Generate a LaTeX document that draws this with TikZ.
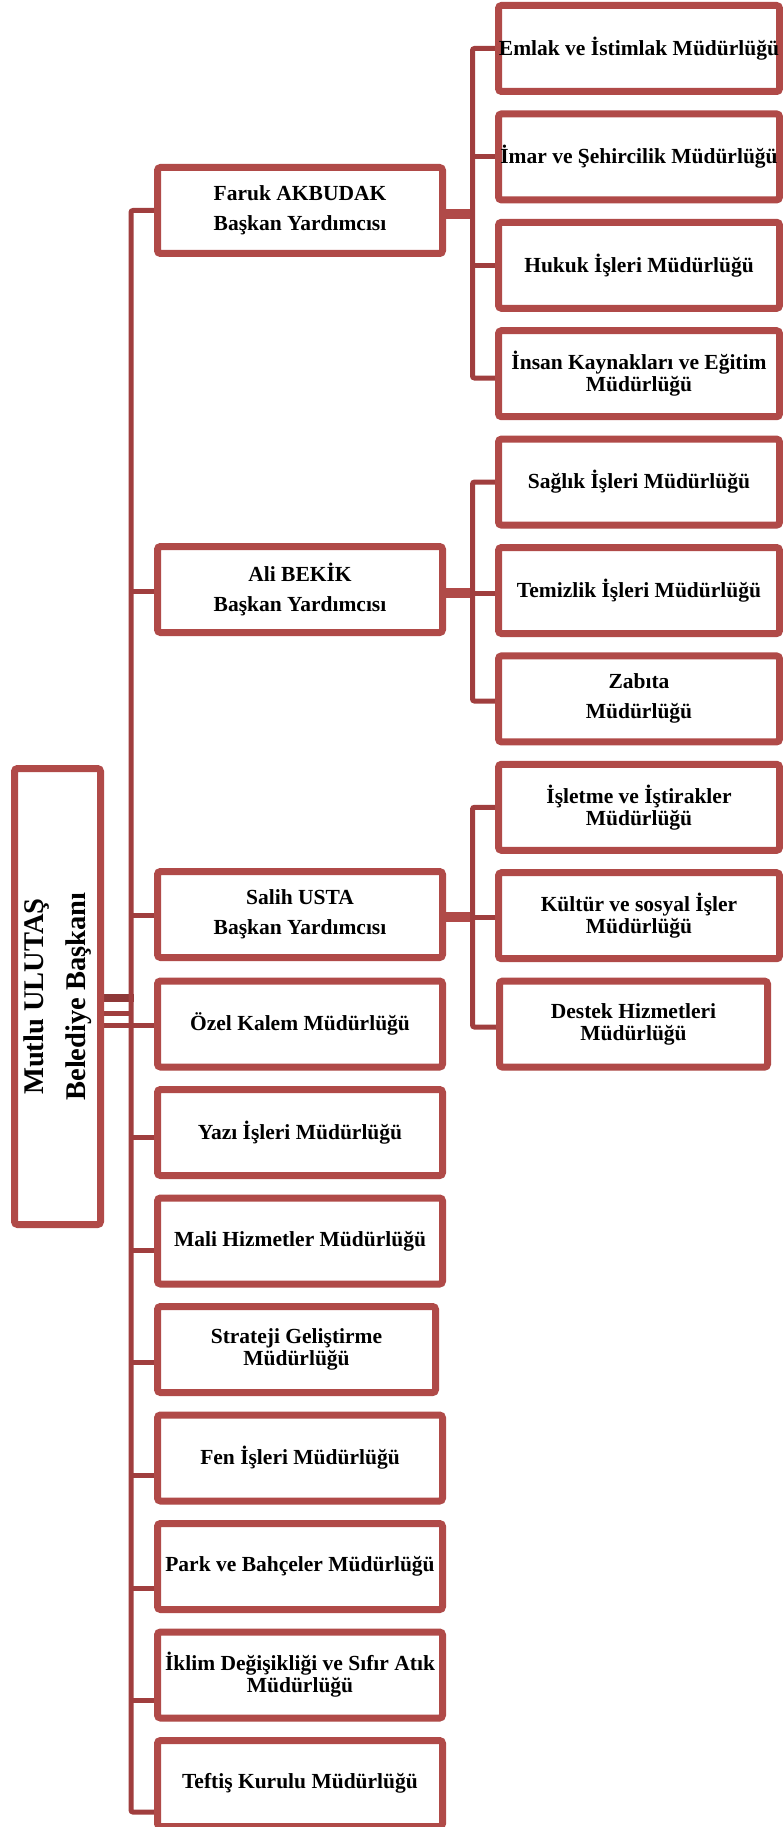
\documentclass[tikz,border=0pt]{standalone}
\usepackage{fontspec}
\setmainfont{Liberation Serif}
\usetikzlibrary{shadows}
\definecolor{boxred}{RGB}{176,74,72}
\definecolor{linered}{RGB}{160,62,62}
\definecolor{darkred}{RGB}{142,56,56}
\pgfdeclarelayer{bg}
\pgfsetlayers{bg,main}
\tikzset{
  orgbox/.style={draw=boxred, line width=7pt, fill=white, rounded corners=3pt,
    inner sep=0pt, outer sep=0pt, align=center,
    font=\fontsize{21.5}{22}\selectfont\bfseries,
    drop shadow={shadow xshift=2pt, shadow yshift=-3pt, opacity=0.25, fill=black}},
  leftbox/.style={orgbox, minimum width=285pt, minimum height=86pt},
  rightbox/.style={orgbox, minimum width=281pt, minimum height=86pt},
  widelead/.style={font=\fontsize{21.5}{30}\selectfont\bfseries},
  conn/.style={draw=linered, line width=5pt, rounded corners=2pt},
  thickconn/.style={draw=boxred, line width=10pt},
}
\begin{document}
\begin{tikzpicture}[x=1pt,y=-1pt]
\useasboundingbox (0,0) rectangle (783,1827);

% mayor
\node[orgbox, rotate=90, minimum width=456pt, minimum height=86pt,
      font=\fontsize{28.5}{42}\selectfont\bfseries] (mayor) at (57.5,996.5)
      {Mutlu ULUTAŞ\\Belediye Başkanı};

% left column
\node[leftbox, widelead] (faruk) at (300,210.5) {Faruk AKBUDAK\\Başkan Yardımcısı};
\node[leftbox, widelead] (ali) at (300,589.5) {Ali BEKİK\\Başkan Yardımcısı};
\node[leftbox, widelead] (salih) at (300,914.5) {Salih USTA\\Başkan Yardımcısı};
\node[leftbox] (ozel) at (300,1024) {Özel Kalem Müdürlüğü};
\node[leftbox] (yazi) at (300,1132.5) {Yazı İşleri Müdürlüğü};
\node[leftbox] (mali) at (300,1241) {Mali Hizmetler Müdürlüğü};
\node[leftbox, minimum width=278pt] (strateji) at (296.5,1349.5) {Strateji Geliştirme\\Müdürlüğü};
\node[leftbox] (fen) at (300,1458) {Fen İşleri Müdürlüğü};
\node[leftbox] (park) at (300,1566.5) {Park ve Bahçeler Müdürlüğü};
\node[leftbox] (iklim) at (300,1675) {İklim Değişikliği ve Sıfır Atık\\Müdürlüğü};
\node[leftbox] (teftis) at (300,1783.5) {Teftiş Kurulu Müdürlüğü};

% right column
\node[rightbox] (emlak) at (639,48.5) {Emlak ve İstimlak Müdürlüğü};
\node[rightbox] (imar) at (639,156.9) {İmar ve Şehircilik Müdürlüğü};
\node[rightbox] (hukuk) at (639,265.3) {Hukuk İşleri Müdürlüğü};
\node[rightbox] (insan) at (639,373.7) {İnsan Kaynakları ve Eğitim\\Müdürlüğü};
\node[rightbox] (saglik) at (639,482.1) {Sağlık İşleri Müdürlüğü};
\node[rightbox] (temizlik) at (639,590.5) {Temizlik İşleri Müdürlüğü};
\node[rightbox, widelead] (zabita) at (639,698.9) {Zabıta\\Müdürlüğü};
\node[rightbox] (isletme) at (639,807.3) {İşletme ve İştirakler\\Müdürlüğü};
\node[rightbox] (kultur) at (639,915.7) {Kültür ve sosyal İşler\\Müdürlüğü};
\node[rightbox, minimum width=268pt] (destek) at (633.5,1024.1) {Destek Hizmetleri\\Müdürlüğü};

\begin{pgfonlayer}{bg}
% mayor links
\draw[darkred, line width=8pt] (mayor.south |- 0,998) -- (133.5,998);
\draw[conn] (mayor.south |- 0,1013) -- (131,1013);
\draw[conn] (mayor.south |- 0,1025) -- (ozel.west |- 0,1025);
% left bus
\draw[conn] (faruk.west) -- (131,210.5) -- (131,1812) -- (teftis.west |- 0,1812);
\draw[conn] (131,591) -- (ali.west |- 0,591);
\draw[conn] (131,915) -- (salih.west |- 0,915);
\draw[conn] (131,1137) -- (yazi.west |- 0,1137);
\draw[conn] (131,1250) -- (mali.west |- 0,1250);
\draw[conn] (131,1362) -- (strateji.west |- 0,1362);
\draw[conn] (131,1475) -- (fen.west |- 0,1475);
\draw[conn] (131,1588) -- (park.west |- 0,1588);
\draw[conn] (131,1700) -- (iklim.west |- 0,1700);
% Faruk group
\draw[thickconn] (faruk.east |- 0,214) -- (475,214);
\draw[conn] (emlak.west) -- (472.5,48.5) -- (472.5,378) -- (insan.west |- 0,378);
\draw[conn] (472.5,156.9) -- (imar.west);
\draw[conn] (472.5,265.3) -- (hukuk.west);
% Ali group
\draw[thickconn] (ali.east |- 0,593) -- (475,593);
\draw[conn] (saglik.west) -- (472.5,482.1) -- (472.5,701) -- (zabita.west |- 0,701);
\draw[conn] (472.5,593) -- (temizlik.west |- 0,593);
% Salih group
\draw[thickconn] (salih.east |- 0,917) -- (475,917);
\draw[conn] (isletme.west) -- (472.5,807.3) -- (472.5,1027) -- (destek.west |- 0,1027);
\draw[conn] (472.5,917) -- (kultur.west |- 0,917);
\end{pgfonlayer}
\end{tikzpicture}
\end{document}
